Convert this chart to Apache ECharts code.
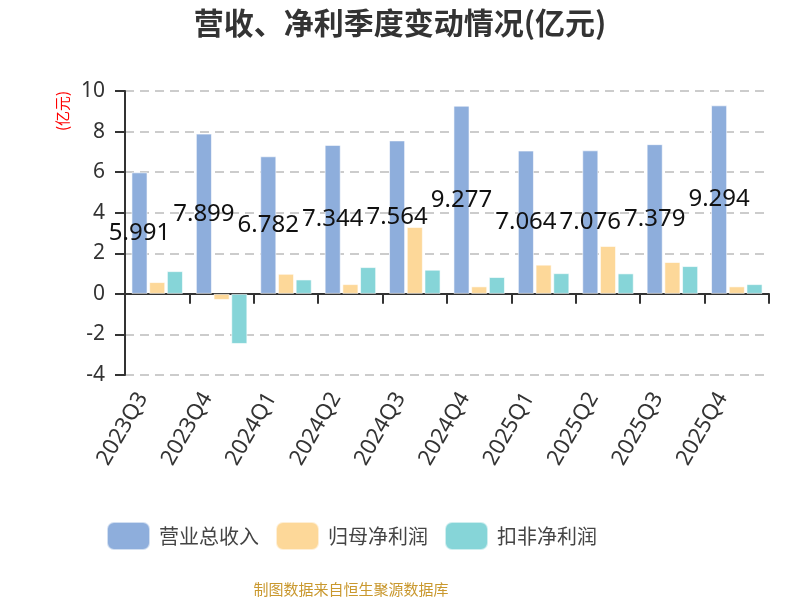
<!DOCTYPE html>
<html>
<head>
<meta charset="utf-8">
<script src="https://cdn.jsdelivr.net/npm/echarts@6/dist/echarts.min.js"></script>
<style>html,body{margin:0;padding:0;background:#fff}#main{width:800px;height:600px}</style>
</head>
<body>
<div id="main"></div>
<script>
var categories = ['2023Q3','2023Q4','2024Q1','2024Q2','2024Q3','2024Q4','2025Q1','2025Q2','2025Q3','2025Q4'];
var revenue = [5.991, 7.899, 6.782, 7.344, 7.564, 9.277, 7.064, 7.076, 7.379, 9.294];
var netProfit = [0.58, -0.30, 0.99, 0.48, 3.30, 0.37, 1.44, 2.36, 1.57, 0.37];
var deductedProfit = [1.12, -2.47, 0.71, 1.32, 1.19, 0.83, 1.02, 1.01, 1.37, 0.48];
var seriesNames = ['营业总收入', '归母净利润', '扣非净利润'];

var chart = echarts.init(document.getElementById('main'));
var font = "'Noto Sans CJK SC', 'Noto Sans', sans-serif";
var numFont = "'Noto Sans', 'Noto Sans CJK SC', sans-serif";
chart.setOption({
  animation: false,
  textStyle: { fontFamily: font },
  title: {
    text: '营收、净利季度变动情况(亿元)',
    left: 'center', top: 3,
    textStyle: { fontSize: 30, fontWeight: 'bold', color: '#333', fontFamily: font }
  },
  graphic: [
    { type: 'text', x: 62, y: 111, rotation: Math.PI / 2,
      style: { text: '(亿元)', fill: '#ff0000', fontSize: 15, fontFamily: font, align: 'center', verticalAlign: 'middle' } },
    { type: 'text', x: 351, y: 589,
      style: { text: '制图数据来自恒生聚源数据库', fill: '#c9982e', fontSize: 15, fontFamily: font, align: 'center', verticalAlign: 'middle' } }
  ],
  legend: {
    left: 101, top: 516,
    itemWidth: 43, itemHeight: 28, itemGap: 16,
    icon: 'roundRect',
    textStyle: { fontSize: 20, color: '#444', fontFamily: font, padding: [0, 0, 0, 4] },
    data: seriesNames
  },
  grid: { left: 125, right: 31, top: 91, bottom: 225, containLabel: false },
  xAxis: {
    type: 'category',
    data: categories,
    axisLine: { onZero: true, lineStyle: { color: '#333', width: 2 } },
    axisTick: { show: true, length: 10, lineStyle: { color: '#333', width: 2 } },
    axisLabel: { rotate: 60, fontSize: 22, color: '#333', margin: 16, interval: 0, fontFamily: numFont,
      verticalAlign: 'bottom', padding: [0, 10, 0, 0] },
    splitLine: { show: false }
  },
  yAxis: {
    type: 'value',
    min: -4, max: 10, interval: 2,
    axisLine: { show: true, lineStyle: { color: '#333', width: 2 } },
    axisTick: { show: true, length: 10, lineStyle: { color: '#333', width: 2 } },
    axisLabel: { fontSize: 21, color: '#333', margin: 20, fontFamily: numFont },
    splitLine: { show: true, lineStyle: { color: '#cccccc', width: 2, type: [9, 6] } }
  },
  series: [
    { name: seriesNames[0], type: 'bar', data: revenue, barGap: '10%', barCategoryGap: '20%',
      itemStyle: { color: '#8eaedc', borderColor: 'rgba(255,255,255,0.6)', borderWidth: 1 },
      label: { show: true, position: 'inside', fontSize: 24, color: '#111', fontFamily: numFont } },
    { name: seriesNames[1], type: 'bar', data: netProfit, barGap: '10%', barCategoryGap: '20%',
      itemStyle: { color: '#fdd899', borderColor: 'rgba(255,255,255,0.6)', borderWidth: 1 } },
    { name: seriesNames[2], type: 'bar', data: deductedProfit, barGap: '10%', barCategoryGap: '20%',
      itemStyle: { color: '#86d5d8', borderColor: 'rgba(255,255,255,0.6)', borderWidth: 1 } }
  ]
});
</script>
</body>
</html>
